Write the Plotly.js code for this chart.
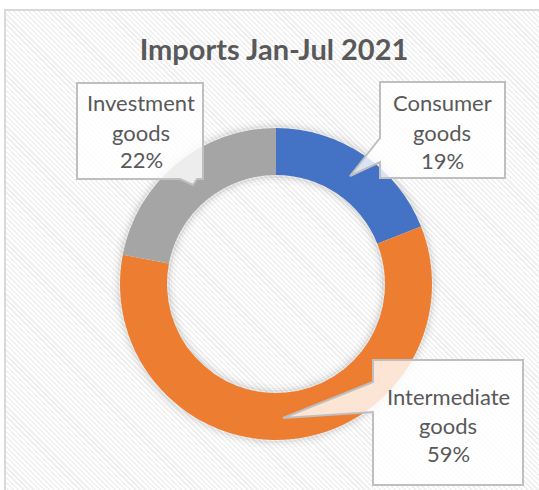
<!DOCTYPE html>
<html>
<head>
<meta charset="utf-8">
<script src="https://cdn.plot.ly/plotly-3.0.1.min.js"></script>
<style>
  html, body { margin: 0; padding: 0; background: #ffffff; }
  #wrap { position: relative; width: 539px; height: 490px; overflow: hidden; }
  #frame {
    position: absolute; left: 4px; top: 9px; width: 560px; height: 520px;
    border: 2px solid #d9d9d9; box-sizing: border-box;
    background: repeating-linear-gradient(45deg, #ffffff 0px, #ffffff 2px, #f0f0f0 2px, #f0f0f0 3.6px);
  }
  #chart { position: absolute; left: 0; top: 0; width: 539px; height: 490px; }
</style>
</head>
<body>
<div id="wrap">
  <div id="frame"></div>
  <div id="chart"></div>
</div>
<script>
const chartTitle = "Imports Jan-Jul 2021";
const categories = ["Consumer goods", "Intermediate goods", "Investment goods"];
const values = [19, 59, 22];
const colors = ["#4472C4", "#ED7D31", "#A5A5A5"];

const W = 539, H = 490;
const px = (x) => x / W;
const py = (y) => 1 - y / H;

// donut geometry (pixels)
const cx = 276, cy = 284, R = 156, r = 109;

const total = values.reduce((a, b) => a + b, 0);
const pct = values.map(v => Math.round(v / total * 100) + "%");

const trace = {
  type: "pie",
  values: values,
  labels: categories,
  marker: { colors: colors, line: { width: 0 } },
  hole: r / R,
  sort: false,
  direction: "clockwise",
  rotation: 0,
  textinfo: "none",
  hoverinfo: "none",
  showlegend: false,
  domain: { x: [px(cx - R), px(cx + R)], y: [py(cy + R), py(cy - R)] }
};

function circ(rad, width, color) {
  return {
    type: "circle", xref: "paper", yref: "paper", layer: "below",
    x0: px(cx - rad), x1: px(cx + rad), y0: py(cy + rad), y1: py(cy - rad),
    line: { color: color, width: width }, fillcolor: "rgba(0,0,0,0)"
  };
}

function pathOf(pts) {
  return "M " + pts.map(p => px(p[0]) + " " + py(p[1])).join(" L ") + " Z";
}

const calloutStyle = { fillcolor: "rgba(255,255,255,0.8)", line: { color: "#bfbfbf", width: 2 } };

// callout shapes: box with wedge pointer, in pixel coordinates
const callouts = [
  // Consumer
  [[380, 82], [505, 82], [505, 178], [380, 178], [380, 162], [350, 176], [380, 138]],
  // Intermediate
  [[373, 360], [523, 360], [523, 485], [373, 485], [373, 412], [283, 418], [373, 382]],
  // Investment
  [[77, 83], [203, 83], [203, 179], [197, 179], [193, 185], [180, 179], [77, 179]]
];

const shapes = [
  circ(r - 1, 4, "rgba(0,0,0,0.07)"),
  circ(r - 3, 4, "rgba(0,0,0,0.04)"),
  circ(r - 6, 5, "rgba(0,0,0,0.025)"),
  circ(R + 1, 4, "rgba(0,0,0,0.06)"),
  circ(R + 3, 4, "rgba(0,0,0,0.035)"),
  circ(R + 6, 5, "rgba(0,0,0,0.02)")
];
callouts.forEach(c => shapes.push(Object.assign({
  type: "path", xref: "paper", yref: "paper", layer: "above", path: pathOf(c)
}, calloutStyle)));

// label text positions (pixel centers of the three lines)
const labelPos = [
  { x: 442, ys: [103, 132, 161] },
  { x: 448, ys: [396, 425, 453] },
  { x: 141, ys: [103, 132, 160] }
];

const annotations = [];
categories.forEach((c, i) => {
  const lines = c.split(" ").concat([pct[i]]);
  lines.forEach((t, k) => {
    annotations.push({
      text: t, xref: "paper", yref: "paper",
      x: px(labelPos[i].x), y: py(labelPos[i].ys[k]),
      xanchor: "center", yanchor: "middle", showarrow: false,
      font: { family: "Lato, 'Open Sans', sans-serif", size: 22, color: "#595959" }
    });
  });
});

const layout = {
  width: W, height: H,
  margin: { l: 0, r: 0, t: 0, b: 0, pad: 0 },
  paper_bgcolor: "rgba(0,0,0,0)",
  plot_bgcolor: "rgba(0,0,0,0)",
  title: {
    text: "<b>" + chartTitle + "</b>",
    x: px(274), xanchor: "center", xref: "paper",
    y: py(50), yanchor: "middle", yref: "container",
    font: { family: "Lato, 'Open Sans', sans-serif", size: 29, color: "#595959" }
  },
  shapes: shapes,
  annotations: annotations
};

Plotly.newPlot("chart", [trace], layout, { displayModeBar: false, staticPlot: true });
</script>
</body>
</html>
